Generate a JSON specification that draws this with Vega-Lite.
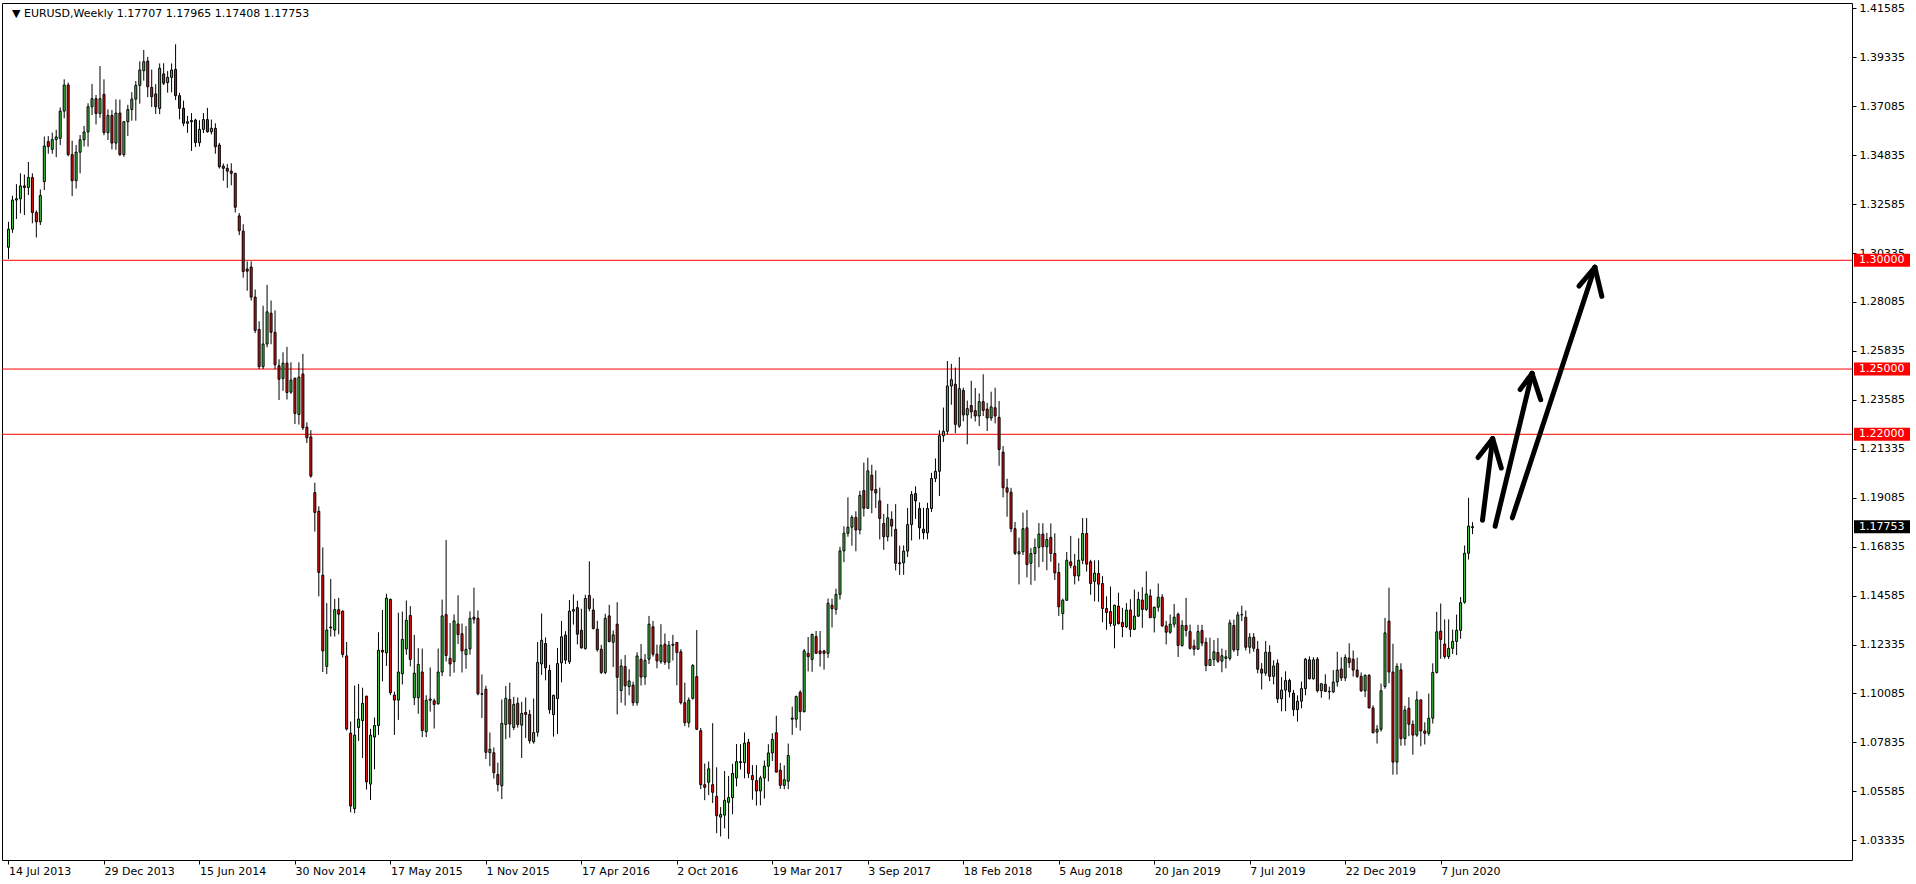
{
"$schema": "https://vega.github.io/schema/vega-lite/v6.json",
"width": 1850,
"height": 857,
"autosize": {"type": "none"},
"padding": {"left": 2, "top": 3, "right": 64, "bottom": 24},
"background": "white",
"datasets": {
"candles": [
{"d":"2013-07-14","o":1.3060,"h":1.3177,"l":1.3006,"c":1.3143},
{"d":"2013-07-21","o":1.3143,"h":1.3297,"l":1.3126,"c":1.3277},
{"d":"2013-07-28","o":1.3277,"h":1.3350,"l":1.3190,"c":1.3283},
{"d":"2013-08-04","o":1.3283,"h":1.3400,"l":1.3216,"c":1.3342},
{"d":"2013-08-11","o":1.3342,"h":1.3394,"l":1.3208,"c":1.3335},
{"d":"2013-08-18","o":1.3335,"h":1.3452,"l":1.3300,"c":1.3381},
{"d":"2013-08-25","o":1.3381,"h":1.3400,"l":1.3170,"c":1.3220},
{"d":"2013-09-01","o":1.3220,"h":1.3230,"l":1.3105,"c":1.3177},
{"d":"2013-09-08","o":1.3177,"h":1.3326,"l":1.3162,"c":1.3298},
{"d":"2013-09-15","o":1.3362,"h":1.3569,"l":1.3323,"c":1.3525},
{"d":"2013-09-22","o":1.3546,"h":1.3571,"l":1.3490,"c":1.3523},
{"d":"2013-09-29","o":1.3510,"h":1.3587,"l":1.3490,"c":1.3555},
{"d":"2013-10-06","o":1.3555,"h":1.3600,"l":1.3474,"c":1.3567},
{"d":"2013-10-13","o":1.3561,"h":1.3703,"l":1.3530,"c":1.3686},
{"d":"2013-10-20","o":1.3686,"h":1.3832,"l":1.3653,"c":1.3806},
{"d":"2013-10-27","o":1.3806,"h":1.3817,"l":1.3478,"c":1.3486},
{"d":"2013-11-03","o":1.3486,"h":1.3550,"l":1.3295,"c":1.3366},
{"d":"2013-11-10","o":1.3366,"h":1.3530,"l":1.3330,"c":1.3497},
{"d":"2013-11-17","o":1.3497,"h":1.3576,"l":1.3400,"c":1.3554},
{"d":"2013-11-24","o":1.3554,"h":1.3618,"l":1.3523,"c":1.3590},
{"d":"2013-12-01","o":1.3590,"h":1.3722,"l":1.3523,"c":1.3706},
{"d":"2013-12-08","o":1.3706,"h":1.3811,"l":1.3668,"c":1.3743},
{"d":"2013-12-15","o":1.3743,"h":1.3760,"l":1.3625,"c":1.3675},
{"d":"2013-12-22","o":1.3675,"h":1.3893,"l":1.3655,"c":1.3743},
{"d":"2013-12-29","o":1.3763,"h":1.3832,"l":1.3575,"c":1.3587},
{"d":"2014-01-05","o":1.3587,"h":1.3694,"l":1.3553,"c":1.3666},
{"d":"2014-01-12","o":1.3666,"h":1.3691,"l":1.3510,"c":1.3539},
{"d":"2014-01-19","o":1.3539,"h":1.3740,"l":1.3508,"c":1.3677},
{"d":"2014-01-26","o":1.3677,"h":1.3739,"l":1.3480,"c":1.3486},
{"d":"2014-02-02","o":1.3486,"h":1.3640,"l":1.3476,"c":1.3637},
{"d":"2014-02-09","o":1.3637,"h":1.3715,"l":1.3572,"c":1.3693},
{"d":"2014-02-16","o":1.3693,"h":1.3773,"l":1.3642,"c":1.3741},
{"d":"2014-02-23","o":1.3741,"h":1.3824,"l":1.3642,"c":1.3804},
{"d":"2014-03-02","o":1.3804,"h":1.3915,"l":1.3720,"c":1.3875},
{"d":"2014-03-09","o":1.3872,"h":1.3967,"l":1.3826,"c":1.3913},
{"d":"2014-03-16","o":1.3916,"h":1.3935,"l":1.3750,"c":1.3798},
{"d":"2014-03-23","o":1.3795,"h":1.3877,"l":1.3705,"c":1.3752},
{"d":"2014-03-30","o":1.3765,"h":1.3810,"l":1.3673,"c":1.3706},
{"d":"2014-04-06","o":1.3698,"h":1.3905,"l":1.3672,"c":1.3883},
{"d":"2014-04-13","o":1.3857,"h":1.3906,"l":1.3806,"c":1.3814},
{"d":"2014-04-20","o":1.3817,"h":1.3870,"l":1.3771,"c":1.3841},
{"d":"2014-04-27","o":1.3841,"h":1.3905,"l":1.3772,"c":1.3875},
{"d":"2014-05-04","o":1.3878,"h":1.3993,"l":1.3737,"c":1.3757},
{"d":"2014-05-11","o":1.3757,"h":1.3770,"l":1.3648,"c":1.3699},
{"d":"2014-05-18","o":1.3699,"h":1.3734,"l":1.3617,"c":1.3630},
{"d":"2014-05-25","o":1.3630,"h":1.3664,"l":1.3586,"c":1.3637},
{"d":"2014-06-01","o":1.3637,"h":1.3677,"l":1.3503,"c":1.3643},
{"d":"2014-06-08","o":1.3645,"h":1.3651,"l":1.3521,"c":1.3541},
{"d":"2014-06-15","o":1.3541,"h":1.3644,"l":1.3523,"c":1.3602},
{"d":"2014-06-22","o":1.3602,"h":1.3677,"l":1.3585,"c":1.3647},
{"d":"2014-06-29","o":1.3647,"h":1.3701,"l":1.3587,"c":1.3591},
{"d":"2014-07-06","o":1.3591,"h":1.3647,"l":1.3579,"c":1.3607},
{"d":"2014-07-13","o":1.3607,"h":1.3630,"l":1.3490,"c":1.3522},
{"d":"2014-07-20","o":1.3530,"h":1.3540,"l":1.3422,"c":1.3430},
{"d":"2014-07-27","o":1.3433,"h":1.3445,"l":1.3366,"c":1.3423},
{"d":"2014-08-03","o":1.3423,"h":1.3443,"l":1.3333,"c":1.3410},
{"d":"2014-08-10","o":1.3410,"h":1.3446,"l":1.3345,"c":1.3400},
{"d":"2014-08-17","o":1.3400,"h":1.3401,"l":1.3220,"c":1.3244},
{"d":"2014-08-24","o":1.3204,"h":1.3217,"l":1.3116,"c":1.3136},
{"d":"2014-08-31","o":1.3134,"h":1.3166,"l":1.2920,"c":1.2949},
{"d":"2014-09-07","o":1.2960,"h":1.2995,"l":1.2860,"c":1.2950},
{"d":"2014-09-14","o":1.2969,"h":1.2995,"l":1.2815,"c":1.2831},
{"d":"2014-09-21","o":1.2831,"h":1.2866,"l":1.2665,"c":1.2678},
{"d":"2014-09-28","o":1.2682,"h":1.2720,"l":1.2500,"c":1.2511},
{"d":"2014-10-05","o":1.2511,"h":1.2791,"l":1.2500,"c":1.2615},
{"d":"2014-10-12","o":1.2615,"h":1.2887,"l":1.2600,"c":1.2763},
{"d":"2014-10-19","o":1.2757,"h":1.2815,"l":1.2614,"c":1.2669},
{"d":"2014-10-26","o":1.2669,"h":1.2770,"l":1.2500,"c":1.2520},
{"d":"2014-11-02","o":1.2515,"h":1.2545,"l":1.2358,"c":1.2453},
{"d":"2014-11-09","o":1.2457,"h":1.2577,"l":1.2400,"c":1.2527},
{"d":"2014-11-16","o":1.2527,"h":1.2602,"l":1.2360,"c":1.2392},
{"d":"2014-11-23","o":1.2394,"h":1.2531,"l":1.2386,"c":1.2449},
{"d":"2014-11-30","o":1.2458,"h":1.2460,"l":1.2247,"c":1.2296},
{"d":"2014-12-07","o":1.2291,"h":1.2531,"l":1.2245,"c":1.2463},
{"d":"2014-12-14","o":1.2477,"h":1.2570,"l":1.2220,"c":1.2230},
{"d":"2014-12-21","o":1.2233,"h":1.2255,"l":1.2160,"c":1.2184},
{"d":"2014-12-28","o":1.2188,"h":1.2219,"l":1.2000,"c":1.2008},
{"d":"2015-01-04","o":1.1932,"h":1.1978,"l":1.1753,"c":1.1841},
{"d":"2015-01-11","o":1.1846,"h":1.1869,"l":1.1455,"c":1.1565},
{"d":"2015-01-18","o":1.1552,"h":1.1680,"l":1.1107,"c":1.1204},
{"d":"2015-01-25","o":1.1133,"h":1.1424,"l":1.1098,"c":1.1300},
{"d":"2015-02-01","o":1.1310,"h":1.1535,"l":1.1270,"c":1.1314},
{"d":"2015-02-08","o":1.1300,"h":1.1443,"l":1.1270,"c":1.1394},
{"d":"2015-02-15","o":1.1394,"h":1.1448,"l":1.1280,"c":1.1373},
{"d":"2015-02-22","o":1.1387,"h":1.1390,"l":1.1174,"c":1.1188},
{"d":"2015-03-01","o":1.1181,"h":1.1245,"l":1.0838,"c":1.0845},
{"d":"2015-03-08","o":1.0826,"h":1.0880,"l":1.0462,"c":1.0491},
{"d":"2015-03-15","o":1.0479,"h":1.1045,"l":1.0458,"c":1.0817},
{"d":"2015-03-22","o":1.0852,"h":1.1052,"l":1.0790,"c":1.0891},
{"d":"2015-03-29","o":1.0884,"h":1.1035,"l":1.0712,"c":1.0963},
{"d":"2015-04-05","o":1.0996,"h":1.0998,"l":1.0567,"c":1.0602},
{"d":"2015-04-12","o":1.0592,"h":1.0846,"l":1.0519,"c":1.0817},
{"d":"2015-04-19","o":1.0808,"h":1.0898,"l":1.0660,"c":1.0861},
{"d":"2015-04-26","o":1.0861,"h":1.1290,"l":1.0818,"c":1.1207},
{"d":"2015-05-03","o":1.1207,"h":1.1392,"l":1.1064,"c":1.1199},
{"d":"2015-05-10","o":1.1195,"h":1.1467,"l":1.1135,"c":1.1447},
{"d":"2015-05-17","o":1.1441,"h":1.1445,"l":1.1001,"c":1.1012},
{"d":"2015-05-24","o":1.1001,"h":1.1017,"l":1.0818,"c":1.0978},
{"d":"2015-05-31","o":1.0978,"h":1.1380,"l":1.0887,"c":1.1107},
{"d":"2015-06-07","o":1.1099,"h":1.1385,"l":1.1050,"c":1.1257},
{"d":"2015-06-14","o":1.1213,"h":1.1436,"l":1.1187,"c":1.1345},
{"d":"2015-06-21","o":1.1367,"h":1.1410,"l":1.1133,"c":1.1165},
{"d":"2015-06-28","o":1.0989,"h":1.1278,"l":1.0955,"c":1.1102},
{"d":"2015-07-05","o":1.0989,"h":1.1217,"l":1.0915,"c":1.1142},
{"d":"2015-07-12","o":1.1107,"h":1.1215,"l":1.0808,"c":1.0838},
{"d":"2015-07-19","o":1.0833,"h":1.1000,"l":1.0808,"c":1.0977},
{"d":"2015-07-26","o":1.0977,"h":1.1128,"l":1.0925,"c":1.0983},
{"d":"2015-08-02","o":1.0975,"h":1.0985,"l":1.0847,"c":1.0958},
{"d":"2015-08-09","o":1.0961,"h":1.1215,"l":1.0957,"c":1.1107},
{"d":"2015-08-16","o":1.1107,"h":1.1440,"l":1.1088,"c":1.1365},
{"d":"2015-08-23","o":1.1371,"h":1.1714,"l":1.1155,"c":1.1183},
{"d":"2015-08-30","o":1.1170,"h":1.1332,"l":1.1087,"c":1.1144},
{"d":"2015-09-06","o":1.1155,"h":1.1372,"l":1.1104,"c":1.1342},
{"d":"2015-09-13","o":1.1328,"h":1.1460,"l":1.1236,"c":1.1279},
{"d":"2015-09-20","o":1.1283,"h":1.1330,"l":1.1105,"c":1.1204},
{"d":"2015-09-27","o":1.1187,"h":1.1318,"l":1.1122,"c":1.1211},
{"d":"2015-10-04","o":1.1213,"h":1.1386,"l":1.1187,"c":1.1354},
{"d":"2015-10-11","o":1.1359,"h":1.1495,"l":1.1330,"c":1.1350},
{"d":"2015-10-18","o":1.1354,"h":1.1390,"l":1.1000,"c":1.1007},
{"d":"2015-10-25","o":1.1007,"h":1.1096,"l":1.0896,"c":1.1005},
{"d":"2015-11-01","o":1.1028,"h":1.1044,"l":1.0707,"c":1.0738},
{"d":"2015-11-08","o":1.0736,"h":1.0829,"l":1.0674,"c":1.0752},
{"d":"2015-11-15","o":1.0736,"h":1.0760,"l":1.0617,"c":1.0644},
{"d":"2015-11-22","o":1.0636,"h":1.0690,"l":1.0558,"c":1.0590},
{"d":"2015-11-29","o":1.0584,"h":1.0981,"l":1.0523,"c":1.0871},
{"d":"2015-12-06","o":1.0866,"h":1.1043,"l":1.0798,"c":1.0986},
{"d":"2015-12-13","o":1.0981,"h":1.1058,"l":1.0805,"c":1.0868},
{"d":"2015-12-20","o":1.0852,"h":1.0993,"l":1.0840,"c":1.0958},
{"d":"2015-12-27","o":1.0963,"h":1.0990,"l":1.0851,"c":1.0866},
{"d":"2016-01-03","o":1.0863,"h":1.0970,"l":1.0712,"c":1.0917},
{"d":"2016-01-10","o":1.0921,"h":1.0990,"l":1.0804,"c":1.0912},
{"d":"2016-01-17","o":1.0912,"h":1.0933,"l":1.0778,"c":1.0791},
{"d":"2016-01-24","o":1.0786,"h":1.0985,"l":1.0778,"c":1.0829},
{"d":"2016-01-31","o":1.0830,"h":1.1245,"l":1.0810,"c":1.1151},
{"d":"2016-02-07","o":1.1144,"h":1.1376,"l":1.1094,"c":1.1253},
{"d":"2016-02-14","o":1.1238,"h":1.1266,"l":1.1069,"c":1.1126},
{"d":"2016-02-21","o":1.1115,"h":1.1140,"l":1.0915,"c":1.0934},
{"d":"2016-02-28","o":1.0911,"h":1.1003,"l":1.0810,"c":1.1000},
{"d":"2016-03-06","o":1.0985,"h":1.1218,"l":1.0822,"c":1.1146},
{"d":"2016-03-13","o":1.1149,"h":1.1342,"l":1.1060,"c":1.1269},
{"d":"2016-03-20","o":1.1277,"h":1.1295,"l":1.1144,"c":1.1162},
{"d":"2016-03-27","o":1.1154,"h":1.1438,"l":1.1144,"c":1.1387},
{"d":"2016-04-03","o":1.1387,"h":1.1464,"l":1.1325,"c":1.1394},
{"d":"2016-04-10","o":1.1403,"h":1.1435,"l":1.1234,"c":1.1281},
{"d":"2016-04-17","o":1.1299,"h":1.1398,"l":1.1215,"c":1.1218},
{"d":"2016-04-24","o":1.1215,"h":1.1462,"l":1.1210,"c":1.1445},
{"d":"2016-05-01","o":1.1459,"h":1.1616,"l":1.1386,"c":1.1399},
{"d":"2016-05-08","o":1.1392,"h":1.1446,"l":1.1303,"c":1.1307},
{"d":"2016-05-15","o":1.1304,"h":1.1343,"l":1.1201,"c":1.1210},
{"d":"2016-05-22","o":1.1212,"h":1.1232,"l":1.1098,"c":1.1105},
{"d":"2016-05-29","o":1.1105,"h":1.1375,"l":1.1097,"c":1.1354},
{"d":"2016-06-05","o":1.1365,"h":1.1416,"l":1.1244,"c":1.1247},
{"d":"2016-06-12","o":1.1244,"h":1.1298,"l":1.1130,"c":1.1278},
{"d":"2016-06-19","o":1.1327,"h":1.1428,"l":1.0912,"c":1.1083},
{"d":"2016-06-26","o":1.1022,"h":1.1166,"l":1.0966,"c":1.1135},
{"d":"2016-07-03","o":1.1132,"h":1.1185,"l":1.0953,"c":1.1044},
{"d":"2016-07-10","o":1.1040,"h":1.1120,"l":1.1000,"c":1.1066},
{"d":"2016-07-17","o":1.1047,"h":1.1063,"l":1.0951,"c":1.0966},
{"d":"2016-07-24","o":1.0966,"h":1.1198,"l":1.0952,"c":1.1181},
{"d":"2016-07-31","o":1.1166,"h":1.1236,"l":1.1045,"c":1.1084},
{"d":"2016-08-07","o":1.1084,"h":1.1190,"l":1.1048,"c":1.1161},
{"d":"2016-08-14","o":1.1166,"h":1.1365,"l":1.1144,"c":1.1327},
{"d":"2016-08-21","o":1.1315,"h":1.1342,"l":1.1178,"c":1.1189},
{"d":"2016-08-28","o":1.1189,"h":1.1233,"l":1.1124,"c":1.1158},
{"d":"2016-09-04","o":1.1155,"h":1.1327,"l":1.1145,"c":1.1230},
{"d":"2016-09-11","o":1.1235,"h":1.1284,"l":1.1140,"c":1.1152},
{"d":"2016-09-18","o":1.1152,"h":1.1250,"l":1.1120,"c":1.1230},
{"d":"2016-09-25","o":1.1230,"h":1.1278,"l":1.1160,"c":1.1235},
{"d":"2016-10-02","o":1.1243,"h":1.1245,"l":1.1046,"c":1.1197},
{"d":"2016-10-09","o":1.1200,"h":1.1212,"l":1.0958,"c":1.0966},
{"d":"2016-10-16","o":1.0966,"h":1.1058,"l":1.0858,"c":1.0874},
{"d":"2016-10-23","o":1.0874,"h":1.0990,"l":1.0852,"c":1.0978},
{"d":"2016-10-30","o":1.0986,"h":1.1144,"l":1.0980,"c":1.1137},
{"d":"2016-11-06","o":1.1086,"h":1.1300,"l":1.0840,"c":1.0844},
{"d":"2016-11-13","o":1.0837,"h":1.0850,"l":1.0569,"c":1.0589},
{"d":"2016-11-20","o":1.0589,"h":1.0686,"l":1.0518,"c":1.0577},
{"d":"2016-11-27","o":1.0600,"h":1.0696,"l":1.0541,"c":1.0662},
{"d":"2016-12-04","o":1.0589,"h":1.0872,"l":1.0505,"c":1.0554},
{"d":"2016-12-11","o":1.0535,"h":1.0669,"l":1.0366,"c":1.0446},
{"d":"2016-12-18","o":1.0440,"h":1.0486,"l":1.0351,"c":1.0452},
{"d":"2016-12-25","o":1.0449,"h":1.0652,"l":1.0388,"c":1.0517},
{"d":"2017-01-01","o":1.0508,"h":1.0629,"l":1.0340,"c":1.0530},
{"d":"2017-01-08","o":1.0530,"h":1.0685,"l":1.0453,"c":1.0641},
{"d":"2017-01-15","o":1.0620,"h":1.0776,"l":1.0581,"c":1.0695},
{"d":"2017-01-22","o":1.0695,"h":1.0775,"l":1.0659,"c":1.0691},
{"d":"2017-01-29","o":1.0691,"h":1.0829,"l":1.0618,"c":1.0780},
{"d":"2017-02-05","o":1.0784,"h":1.0800,"l":1.0620,"c":1.0641},
{"d":"2017-02-12","o":1.0631,"h":1.0679,"l":1.0520,"c":1.0612},
{"d":"2017-02-19","o":1.0608,"h":1.0679,"l":1.0493,"c":1.0560},
{"d":"2017-02-26","o":1.0560,"h":1.0630,"l":1.0494,"c":1.0620},
{"d":"2017-03-05","o":1.0620,"h":1.0700,"l":1.0525,"c":1.0674},
{"d":"2017-03-12","o":1.0674,"h":1.0775,"l":1.0604,"c":1.0735},
{"d":"2017-03-19","o":1.0735,"h":1.0826,"l":1.0698,"c":1.0797},
{"d":"2017-03-26","o":1.0828,"h":1.0906,"l":1.0645,"c":1.0647},
{"d":"2017-04-02","o":1.0656,"h":1.0689,"l":1.0570,"c":1.0586},
{"d":"2017-04-09","o":1.0586,"h":1.0678,"l":1.0568,"c":1.0612},
{"d":"2017-04-16","o":1.0605,"h":1.0778,"l":1.0569,"c":1.0723},
{"d":"2017-04-23","o":1.0890,"h":1.0948,"l":1.0818,"c":1.0895},
{"d":"2017-04-30","o":1.0890,"h":1.0999,"l":1.0851,"c":1.0994},
{"d":"2017-05-07","o":1.1014,"h":1.1023,"l":1.0838,"c":1.0925},
{"d":"2017-05-14","o":1.0925,"h":1.1213,"l":1.0921,"c":1.1204},
{"d":"2017-05-21","o":1.1193,"h":1.1268,"l":1.1110,"c":1.1178},
{"d":"2017-05-28","o":1.1165,"h":1.1284,"l":1.1108,"c":1.1280},
{"d":"2017-06-04","o":1.1270,"h":1.1296,"l":1.1190,"c":1.1193},
{"d":"2017-06-11","o":1.1204,"h":1.1296,"l":1.1132,"c":1.1192},
{"d":"2017-06-18","o":1.1204,"h":1.1209,"l":1.1118,"c":1.1193},
{"d":"2017-06-25","o":1.1193,"h":1.1445,"l":1.1172,"c":1.1423},
{"d":"2017-07-02","o":1.1414,"h":1.1444,"l":1.1312,"c":1.1398},
{"d":"2017-07-09","o":1.1395,"h":1.1490,"l":1.1371,"c":1.1464},
{"d":"2017-07-16","o":1.1464,"h":1.1683,"l":1.1440,"c":1.1664},
{"d":"2017-07-23","o":1.1664,"h":1.1777,"l":1.1612,"c":1.1745},
{"d":"2017-07-30","o":1.1745,"h":1.1910,"l":1.1729,"c":1.1773},
{"d":"2017-08-06","o":1.1773,"h":1.1828,"l":1.1688,"c":1.1818},
{"d":"2017-08-13","o":1.1818,"h":1.1846,"l":1.1662,"c":1.1760},
{"d":"2017-08-20","o":1.1760,"h":1.1940,"l":1.1740,"c":1.1919},
{"d":"2017-08-27","o":1.1941,"h":1.2070,"l":1.1822,"c":1.1860},
{"d":"2017-09-03","o":1.1860,"h":1.2092,"l":1.1857,"c":1.2032},
{"d":"2017-09-10","o":1.2012,"h":1.2060,"l":1.1837,"c":1.1943},
{"d":"2017-09-17","o":1.1946,"h":1.2034,"l":1.1861,"c":1.1930},
{"d":"2017-09-24","o":1.1894,"h":1.1955,"l":1.1717,"c":1.1813},
{"d":"2017-10-01","o":1.1790,"h":1.1834,"l":1.1669,"c":1.1729},
{"d":"2017-10-08","o":1.1729,"h":1.1880,"l":1.1708,"c":1.1816},
{"d":"2017-10-15","o":1.1809,"h":1.1846,"l":1.1730,"c":1.1778},
{"d":"2017-10-22","o":1.1763,"h":1.1879,"l":1.1574,"c":1.1607},
{"d":"2017-10-29","o":1.1609,"h":1.1688,"l":1.1553,"c":1.1605},
{"d":"2017-11-05","o":1.1609,"h":1.1689,"l":1.1554,"c":1.1663},
{"d":"2017-11-12","o":1.1663,"h":1.1861,"l":1.1636,"c":1.1785},
{"d":"2017-11-19","o":1.1785,"h":1.1939,"l":1.1712,"c":1.1923},
{"d":"2017-11-26","o":1.1928,"h":1.1961,"l":1.1811,"c":1.1894},
{"d":"2017-12-03","o":1.1859,"h":1.1887,"l":1.1717,"c":1.1770},
{"d":"2017-12-10","o":1.1764,"h":1.1862,"l":1.1717,"c":1.1747},
{"d":"2017-12-17","o":1.1747,"h":1.1885,"l":1.1717,"c":1.1859},
{"d":"2017-12-24","o":1.1859,"h":1.2023,"l":1.1843,"c":1.1997},
{"d":"2017-12-31","o":1.1997,"h":1.2089,"l":1.1980,"c":1.2030},
{"d":"2018-01-07","o":1.2030,"h":1.2219,"l":1.1916,"c":1.2193},
{"d":"2018-01-14","o":1.2193,"h":1.2323,"l":1.2165,"c":1.2214},
{"d":"2018-01-21","o":1.2214,"h":1.2537,"l":1.2200,"c":1.2422},
{"d":"2018-01-28","o":1.2422,"h":1.2524,"l":1.2336,"c":1.2451},
{"d":"2018-02-04","o":1.2430,"h":1.2507,"l":1.2205,"c":1.2246},
{"d":"2018-02-11","o":1.2238,"h":1.2555,"l":1.2230,"c":1.2410},
{"d":"2018-02-18","o":1.2402,"h":1.2414,"l":1.2260,"c":1.2289},
{"d":"2018-02-25","o":1.2289,"h":1.2355,"l":1.2154,"c":1.2318},
{"d":"2018-03-04","o":1.2332,"h":1.2446,"l":1.2273,"c":1.2303},
{"d":"2018-03-11","o":1.2309,"h":1.2413,"l":1.2259,"c":1.2284},
{"d":"2018-03-18","o":1.2284,"h":1.2388,"l":1.2238,"c":1.2350},
{"d":"2018-03-25","o":1.2350,"h":1.2476,"l":1.2284,"c":1.2310},
{"d":"2018-04-01","o":1.2316,"h":1.2345,"l":1.2215,"c":1.2275},
{"d":"2018-04-08","o":1.2275,"h":1.2396,"l":1.2262,"c":1.2326},
{"d":"2018-04-15","o":1.2322,"h":1.2414,"l":1.2250,"c":1.2284},
{"d":"2018-04-22","o":1.2278,"h":1.2353,"l":1.2055,"c":1.2130},
{"d":"2018-04-29","o":1.2118,"h":1.2146,"l":1.1910,"c":1.1954},
{"d":"2018-05-06","o":1.1954,"h":1.1996,"l":1.1821,"c":1.1934},
{"d":"2018-05-13","o":1.1934,"h":1.1954,"l":1.1750,"c":1.1766},
{"d":"2018-05-20","o":1.1766,"h":1.1797,"l":1.1645,"c":1.1653},
{"d":"2018-05-27","o":1.1650,"h":1.1725,"l":1.1510,"c":1.1660},
{"d":"2018-06-03","o":1.1660,"h":1.1840,"l":1.1645,"c":1.1766},
{"d":"2018-06-10","o":1.1770,"h":1.1852,"l":1.1542,"c":1.1601},
{"d":"2018-06-17","o":1.1607,"h":1.1677,"l":1.1508,"c":1.1652},
{"d":"2018-06-24","o":1.1652,"h":1.1721,"l":1.1527,"c":1.1680},
{"d":"2018-07-01","o":1.1680,"h":1.1792,"l":1.1589,"c":1.1741},
{"d":"2018-07-08","o":1.1741,"h":1.1791,"l":1.1613,"c":1.1683},
{"d":"2018-07-15","o":1.1683,"h":1.1747,"l":1.1575,"c":1.1716},
{"d":"2018-07-22","o":1.1726,"h":1.1790,"l":1.1614,"c":1.1652},
{"d":"2018-07-29","o":1.1652,"h":1.1745,"l":1.1530,"c":1.1563},
{"d":"2018-08-05","o":1.1565,"h":1.1608,"l":1.1365,"c":1.1407},
{"d":"2018-08-12","o":1.1376,"h":1.1445,"l":1.1301,"c":1.1437},
{"d":"2018-08-19","o":1.1437,"h":1.1659,"l":1.1434,"c":1.1621},
{"d":"2018-08-26","o":1.1614,"h":1.1733,"l":1.1584,"c":1.1597},
{"d":"2018-09-02","o":1.1594,"h":1.1650,"l":1.1510,"c":1.1549},
{"d":"2018-09-09","o":1.1549,"h":1.1722,"l":1.1525,"c":1.1621},
{"d":"2018-09-16","o":1.1621,"h":1.1815,"l":1.1603,"c":1.1744},
{"d":"2018-09-23","o":1.1744,"h":1.1815,"l":1.1569,"c":1.1603},
{"d":"2018-09-30","o":1.1614,"h":1.1623,"l":1.1462,"c":1.1514},
{"d":"2018-10-07","o":1.1524,"h":1.1621,"l":1.1432,"c":1.1562},
{"d":"2018-10-14","o":1.1560,"h":1.1621,"l":1.1430,"c":1.1511},
{"d":"2018-10-21","o":1.1514,"h":1.1548,"l":1.1336,"c":1.1399},
{"d":"2018-10-28","o":1.1399,"h":1.1455,"l":1.1301,"c":1.1381},
{"d":"2018-11-04","o":1.1385,"h":1.1500,"l":1.1316,"c":1.1330},
{"d":"2018-11-11","o":1.1322,"h":1.1417,"l":1.1216,"c":1.1414},
{"d":"2018-11-18","o":1.1410,"h":1.1472,"l":1.1325,"c":1.1330},
{"d":"2018-11-25","o":1.1335,"h":1.1402,"l":1.1267,"c":1.1315},
{"d":"2018-12-02","o":1.1315,"h":1.1424,"l":1.1309,"c":1.1392},
{"d":"2018-12-09","o":1.1392,"h":1.1442,"l":1.1268,"c":1.1303},
{"d":"2018-12-16","o":1.1303,"h":1.1486,"l":1.1300,"c":1.1364},
{"d":"2018-12-23","o":1.1364,"h":1.1476,"l":1.1360,"c":1.1441},
{"d":"2018-12-30","o":1.1438,"h":1.1497,"l":1.1310,"c":1.1395},
{"d":"2019-01-06","o":1.1395,"h":1.1570,"l":1.1388,"c":1.1466},
{"d":"2019-01-13","o":1.1457,"h":1.1488,"l":1.1355,"c":1.1357},
{"d":"2019-01-20","o":1.1357,"h":1.1408,"l":1.1289,"c":1.1405},
{"d":"2019-01-27","o":1.1405,"h":1.1514,"l":1.1385,"c":1.1451},
{"d":"2019-02-03","o":1.1451,"h":1.1465,"l":1.1315,"c":1.1319},
{"d":"2019-02-10","o":1.1319,"h":1.1342,"l":1.1234,"c":1.1290},
{"d":"2019-02-17","o":1.1290,"h":1.1371,"l":1.1283,"c":1.1327},
{"d":"2019-02-24","o":1.1327,"h":1.1420,"l":1.1312,"c":1.1359},
{"d":"2019-03-03","o":1.1373,"h":1.1380,"l":1.1176,"c":1.1229},
{"d":"2019-03-10","o":1.1229,"h":1.1345,"l":1.1223,"c":1.1321},
{"d":"2019-03-17","o":1.1321,"h":1.1448,"l":1.1270,"c":1.1298},
{"d":"2019-03-24","o":1.1293,"h":1.1325,"l":1.1210,"c":1.1216},
{"d":"2019-03-31","o":1.1227,"h":1.1256,"l":1.1183,"c":1.1212},
{"d":"2019-04-07","o":1.1212,"h":1.1324,"l":1.1210,"c":1.1293},
{"d":"2019-04-14","o":1.1298,"h":1.1324,"l":1.1226,"c":1.1240},
{"d":"2019-04-21","o":1.1244,"h":1.1265,"l":1.1111,"c":1.1137},
{"d":"2019-04-28","o":1.1137,"h":1.1265,"l":1.1135,"c":1.1165},
{"d":"2019-05-05","o":1.1165,"h":1.1254,"l":1.1135,"c":1.1200},
{"d":"2019-05-12","o":1.1197,"h":1.1263,"l":1.1149,"c":1.1157},
{"d":"2019-05-19","o":1.1157,"h":1.1215,"l":1.1106,"c":1.1182},
{"d":"2019-05-26","o":1.1170,"h":1.1208,"l":1.1124,"c":1.1177},
{"d":"2019-06-02","o":1.1170,"h":1.1348,"l":1.1160,"c":1.1333},
{"d":"2019-06-09","o":1.1321,"h":1.1348,"l":1.1200,"c":1.1209},
{"d":"2019-06-16","o":1.1209,"h":1.1384,"l":1.1181,"c":1.1370},
{"d":"2019-06-23","o":1.1370,"h":1.1412,"l":1.1341,"c":1.1371},
{"d":"2019-06-30","o":1.1359,"h":1.1390,"l":1.1206,"c":1.1221},
{"d":"2019-07-07","o":1.1221,"h":1.1286,"l":1.1192,"c":1.1267},
{"d":"2019-07-14","o":1.1267,"h":1.1286,"l":1.1200,"c":1.1216},
{"d":"2019-07-21","o":1.1212,"h":1.1250,"l":1.1101,"c":1.1120},
{"d":"2019-07-28","o":1.1120,"h":1.1148,"l":1.1027,"c":1.1102},
{"d":"2019-08-04","o":1.1102,"h":1.1250,"l":1.1090,"c":1.1198},
{"d":"2019-08-11","o":1.1198,"h":1.1230,"l":1.1065,"c":1.1087},
{"d":"2019-08-18","o":1.1087,"h":1.1161,"l":1.1050,"c":1.1135},
{"d":"2019-08-25","o":1.1147,"h":1.1165,"l":1.0965,"c":1.0984},
{"d":"2019-09-01","o":1.0984,"h":1.1084,"l":1.0926,"c":1.1024},
{"d":"2019-09-08","o":1.1024,"h":1.1110,"l":1.0927,"c":1.1068},
{"d":"2019-09-15","o":1.1068,"h":1.1076,"l":1.0990,"c":1.1016},
{"d":"2019-09-22","o":1.1010,"h":1.1025,"l":1.0905,"c":1.0934},
{"d":"2019-09-29","o":1.0934,"h":1.1000,"l":1.0879,"c":1.0973},
{"d":"2019-10-06","o":1.0973,"h":1.1063,"l":1.0940,"c":1.1031},
{"d":"2019-10-13","o":1.1031,"h":1.1172,"l":1.1000,"c":1.1166},
{"d":"2019-10-20","o":1.1163,"h":1.1179,"l":1.1073,"c":1.1076},
{"d":"2019-10-27","o":1.1076,"h":1.1175,"l":1.1072,"c":1.1163},
{"d":"2019-11-03","o":1.1166,"h":1.1176,"l":1.1013,"c":1.1021},
{"d":"2019-11-10","o":1.1021,"h":1.1055,"l":1.0989,"c":1.1053},
{"d":"2019-11-17","o":1.1050,"h":1.1097,"l":1.1015,"c":1.1018},
{"d":"2019-11-24","o":1.1018,"h":1.1040,"l":1.0981,"c":1.1016},
{"d":"2019-12-01","o":1.1016,"h":1.1116,"l":1.1010,"c":1.1061},
{"d":"2019-12-08","o":1.1061,"h":1.1200,"l":1.1040,"c":1.1116},
{"d":"2019-12-15","o":1.1121,"h":1.1175,"l":1.1066,"c":1.1080},
{"d":"2019-12-22","o":1.1080,"h":1.1188,"l":1.1065,"c":1.1174},
{"d":"2019-12-29","o":1.1171,"h":1.1239,"l":1.1126,"c":1.1150},
{"d":"2020-01-05","o":1.1166,"h":1.1206,"l":1.1086,"c":1.1116},
{"d":"2020-01-12","o":1.1116,"h":1.1173,"l":1.1080,"c":1.1087},
{"d":"2020-01-19","o":1.1087,"h":1.1105,"l":1.1015,"c":1.1021},
{"d":"2020-01-26","o":1.1021,"h":1.1096,"l":1.0992,"c":1.1092},
{"d":"2020-02-02","o":1.1092,"h":1.1097,"l":1.0940,"c":1.0942},
{"d":"2020-02-09","o":1.0942,"h":1.0954,"l":1.0825,"c":1.0828},
{"d":"2020-02-16","o":1.0831,"h":1.0863,"l":1.0778,"c":1.0844},
{"d":"2020-02-23","o":1.0844,"h":1.1054,"l":1.0833,"c":1.1021},
{"d":"2020-03-01","o":1.1040,"h":1.1356,"l":1.1030,"c":1.1287},
{"d":"2020-03-08","o":1.1341,"h":1.1495,"l":1.1055,"c":1.1107},
{"d":"2020-03-15","o":1.1107,"h":1.1237,"l":1.0635,"c":1.0693},
{"d":"2020-03-22","o":1.0693,"h":1.1147,"l":1.0636,"c":1.1133},
{"d":"2020-03-29","o":1.1117,"h":1.1147,"l":1.0768,"c":1.0801},
{"d":"2020-04-05","o":1.0801,"h":1.0952,"l":1.0769,"c":1.0932},
{"d":"2020-04-12","o":1.0940,"h":1.0991,"l":1.0812,"c":1.0867},
{"d":"2020-04-19","o":1.0867,"h":1.0885,"l":1.0727,"c":1.0817},
{"d":"2020-04-26","o":1.0817,"h":1.1019,"l":1.0809,"c":1.0979},
{"d":"2020-05-03","o":1.0979,"h":1.0980,"l":1.0766,"c":1.0836},
{"d":"2020-05-10","o":1.0836,"h":1.0876,"l":1.0774,"c":1.0825},
{"d":"2020-05-17","o":1.0825,"h":1.1008,"l":1.0814,"c":1.0895},
{"d":"2020-05-24","o":1.0895,"h":1.1147,"l":1.0870,"c":1.1105},
{"d":"2020-05-31","o":1.1105,"h":1.1384,"l":1.1100,"c":1.1292},
{"d":"2020-06-07","o":1.1295,"h":1.1422,"l":1.1168,"c":1.1257},
{"d":"2020-06-14","o":1.1236,"h":1.1349,"l":1.1168,"c":1.1178},
{"d":"2020-06-21","o":1.1178,"h":1.1349,"l":1.1167,"c":1.1216},
{"d":"2020-06-28","o":1.1216,"h":1.1302,"l":1.1190,"c":1.1248},
{"d":"2020-07-05","o":1.1248,"h":1.1371,"l":1.1185,"c":1.1299},
{"d":"2020-07-12","o":1.1299,"h":1.1452,"l":1.1260,"c":1.1426},
{"d":"2020-07-19","o":1.1428,"h":1.1689,"l":1.1421,"c":1.1653},
{"d":"2020-07-26","o":1.1653,"h":1.1908,"l":1.1624,"c":1.1778},
{"d":"2020-08-02","o":1.17707,"h":1.17965,"l":1.17408,"c":1.17753}
],
"levels": [{"p":1.30,"t":"1.30000"},{"p":1.25,"t":"1.25000"},{"p":1.22,"t":"1.22000"}],
"price": [{"p":1.17753,"t":"1.17753"}],
"arrows": [
{"a":1,"t1":"2020-08-19T12:00:00Z","p1":1.1805,"t2":"2020-09-06T12:00:00Z","p2":1.2180},
{"a":1,"t1":"2020-08-11T14:00:00Z","p1":1.2093,"t2":"2020-09-06T12:00:00Z","p2":1.2180},
{"a":1,"t1":"2020-09-21T14:00:00Z","p1":1.2045,"t2":"2020-09-06T12:00:00Z","p2":1.2180},
{"a":2,"t1":"2020-09-10T17:00:00Z","p1":1.1777,"t2":"2020-11-14T19:00:00Z","p2":1.2480},
{"a":2,"t1":"2020-10-24T19:00:00Z","p1":1.2406,"t2":"2020-11-14T19:00:00Z","p2":1.2480},
{"a":2,"t1":"2020-11-29T22:00:00Z","p1":1.2359,"t2":"2020-11-14T19:00:00Z","p2":1.2480},
{"a":3,"t1":"2020-10-11T00:00:00Z","p1":1.1816,"t2":"2021-03-05T06:00:00Z","p2":1.2968},
{"a":3,"t1":"2021-02-05T06:00:00Z","p1":1.2881,"t2":"2021-03-05T06:00:00Z","p2":1.2968},
{"a":3,"t1":"2021-03-17T12:00:00Z","p1":1.2834,"t2":"2021-03-05T06:00:00Z","p2":1.2968}
],
"header": [{"t":"▼ EURUSD,Weekly  1.17707 1.17965 1.17408 1.17753"}]
},
"layer": [
{
"data": {"name": "levels"},
"mark": {"type": "rule", "color": "#ff0000", "strokeWidth": 1},
"encoding": {
"y": {"field": "p", "type": "quantitative", "title": null, "scale": {"domain": [1.02428, 1.4183], "nice": false, "zero": false}}
}
},
{
"data": {"name": "candles"},
"mark": {"type": "rule", "color": "black", "strokeWidth": 1},
"encoding": {
"x": {"field": "d", "type": "temporal", "title": null,
"scale": {"type": "utc", "domain": [{"year": 2013, "month": 7, "date": 11, "hours": 9, "utc": true}, {"year": 2022, "month": 5, "date": 22, "hours": 21, "utc": true}], "nice": false},
"axis": {"values": [
{"year":2013,"month":7,"date":14,"utc":true},{"year":2013,"month":12,"date":29,"utc":true},{"year":2014,"month":6,"date":15,"utc":true},{"year":2014,"month":11,"date":30,"utc":true},
{"year":2015,"month":5,"date":17,"utc":true},{"year":2015,"month":11,"date":1,"utc":true},{"year":2016,"month":4,"date":17,"utc":true},{"year":2016,"month":10,"date":2,"utc":true},
{"year":2017,"month":3,"date":19,"utc":true},{"year":2017,"month":9,"date":3,"utc":true},{"year":2018,"month":2,"date":18,"utc":true},{"year":2018,"month":8,"date":5,"utc":true},
{"year":2019,"month":1,"date":20,"utc":true},{"year":2019,"month":7,"date":7,"utc":true},{"year":2019,"month":12,"date":22,"utc":true},{"year":2020,"month":6,"date":7,"utc":true}],
"format": "%-d %b %Y", "labelAlign": "left", "labelBaseline": "top", "tickSize": 4, "labelPadding": 1, "labelOverlap": false, "labelBound": false, "labelFlush": false}},
"y": {"field": "l", "type": "quantitative", "title": null,
"axis": {"orient": "right", "values": [1.03335,1.05585,1.07835,1.10085,1.12335,1.14585,1.16835,1.19085,1.21335,1.23585,1.25835,1.28085,1.30335,1.32585,1.34835,1.37085,1.39335,1.41585],
"format": ".5f", "tickSize": 4, "labelPadding": 3, "labelOverlap": false, "labelBound": false, "labelFlush": false}},
"y2": {"field": "h"}
}
},
{
"data": {"name": "candles"},
"mark": {"type": "bar", "width": 2, "stroke": "black", "strokeWidth": 1},
"encoding": {
"x": {"field": "d", "type": "temporal", "title": null},
"y": {"field": "o", "type": "quantitative", "title": null},
"y2": {"field": "c"},
"fill": {"condition": {"test": "datum.c >= datum.o", "value": "#44cc44"}, "value": "#f01010"}
}
},
{
"data": {"name": "arrows"},
"mark": {"type": "rule", "color": "black", "strokeWidth": 5, "strokeCap": "round"},
"encoding": {
"x": {"field": "t1", "type": "temporal", "title": null},
"x2": {"field": "t2"},
"y": {"field": "p1", "type": "quantitative", "title": null},
"y2": {"field": "p2"}
}
},
{
"data": {"name": "levels"},
"mark": {"type": "rule", "color": "#ff0000", "strokeWidth": 13, "strokeCap": "butt", "xOffset": 2, "x2Offset": 58},
"encoding": {
"x": {"value": "width"},
"x2": {"value": "width"},
"y": {"field": "p", "type": "quantitative", "title": null}
}
},
{
"data": {"name": "levels"},
"mark": {"type": "text", "color": "white", "align": "left", "baseline": "middle", "dx": 7, "font": "DejaVu Sans", "fontSize": 11},
"encoding": {
"x": {"value": "width"},
"y": {"field": "p", "type": "quantitative", "title": null},
"text": {"field": "t"}
}
},
{
"data": {"name": "price"},
"mark": {"type": "rule", "color": "black", "strokeWidth": 13, "strokeCap": "butt", "xOffset": 2, "x2Offset": 58},
"encoding": {
"x": {"value": "width"},
"x2": {"value": "width"},
"y": {"field": "p", "type": "quantitative", "title": null}
}
},
{
"data": {"name": "price"},
"mark": {"type": "text", "color": "white", "align": "left", "baseline": "middle", "dx": 7, "font": "DejaVu Sans", "fontSize": 11},
"encoding": {
"x": {"value": "width"},
"y": {"field": "p", "type": "quantitative", "title": null},
"text": {"field": "t"}
}
},
{
"data": {"name": "header"},
"mark": {"type": "text", "color": "black", "align": "left", "baseline": "alphabetic", "font": "DejaVu Sans", "fontSize": 11},
"encoding": {
"x": {"datum": {"year": 2013, "month": 7, "date": 20, "hours": 3, "utc": true}, "type": "temporal"},
"y": {"datum": 1.41186, "type": "quantitative"},
"text": {"field": "t"}
}
}
],
"config": {
"view": {"stroke": "black", "strokeWidth": 1},
"axis": {"labelFont": "DejaVu Sans", "labelFontSize": 11, "labelColor": "black", "tickColor": "black", "tickWidth": 1, "domain": false, "grid": false}
}
}
